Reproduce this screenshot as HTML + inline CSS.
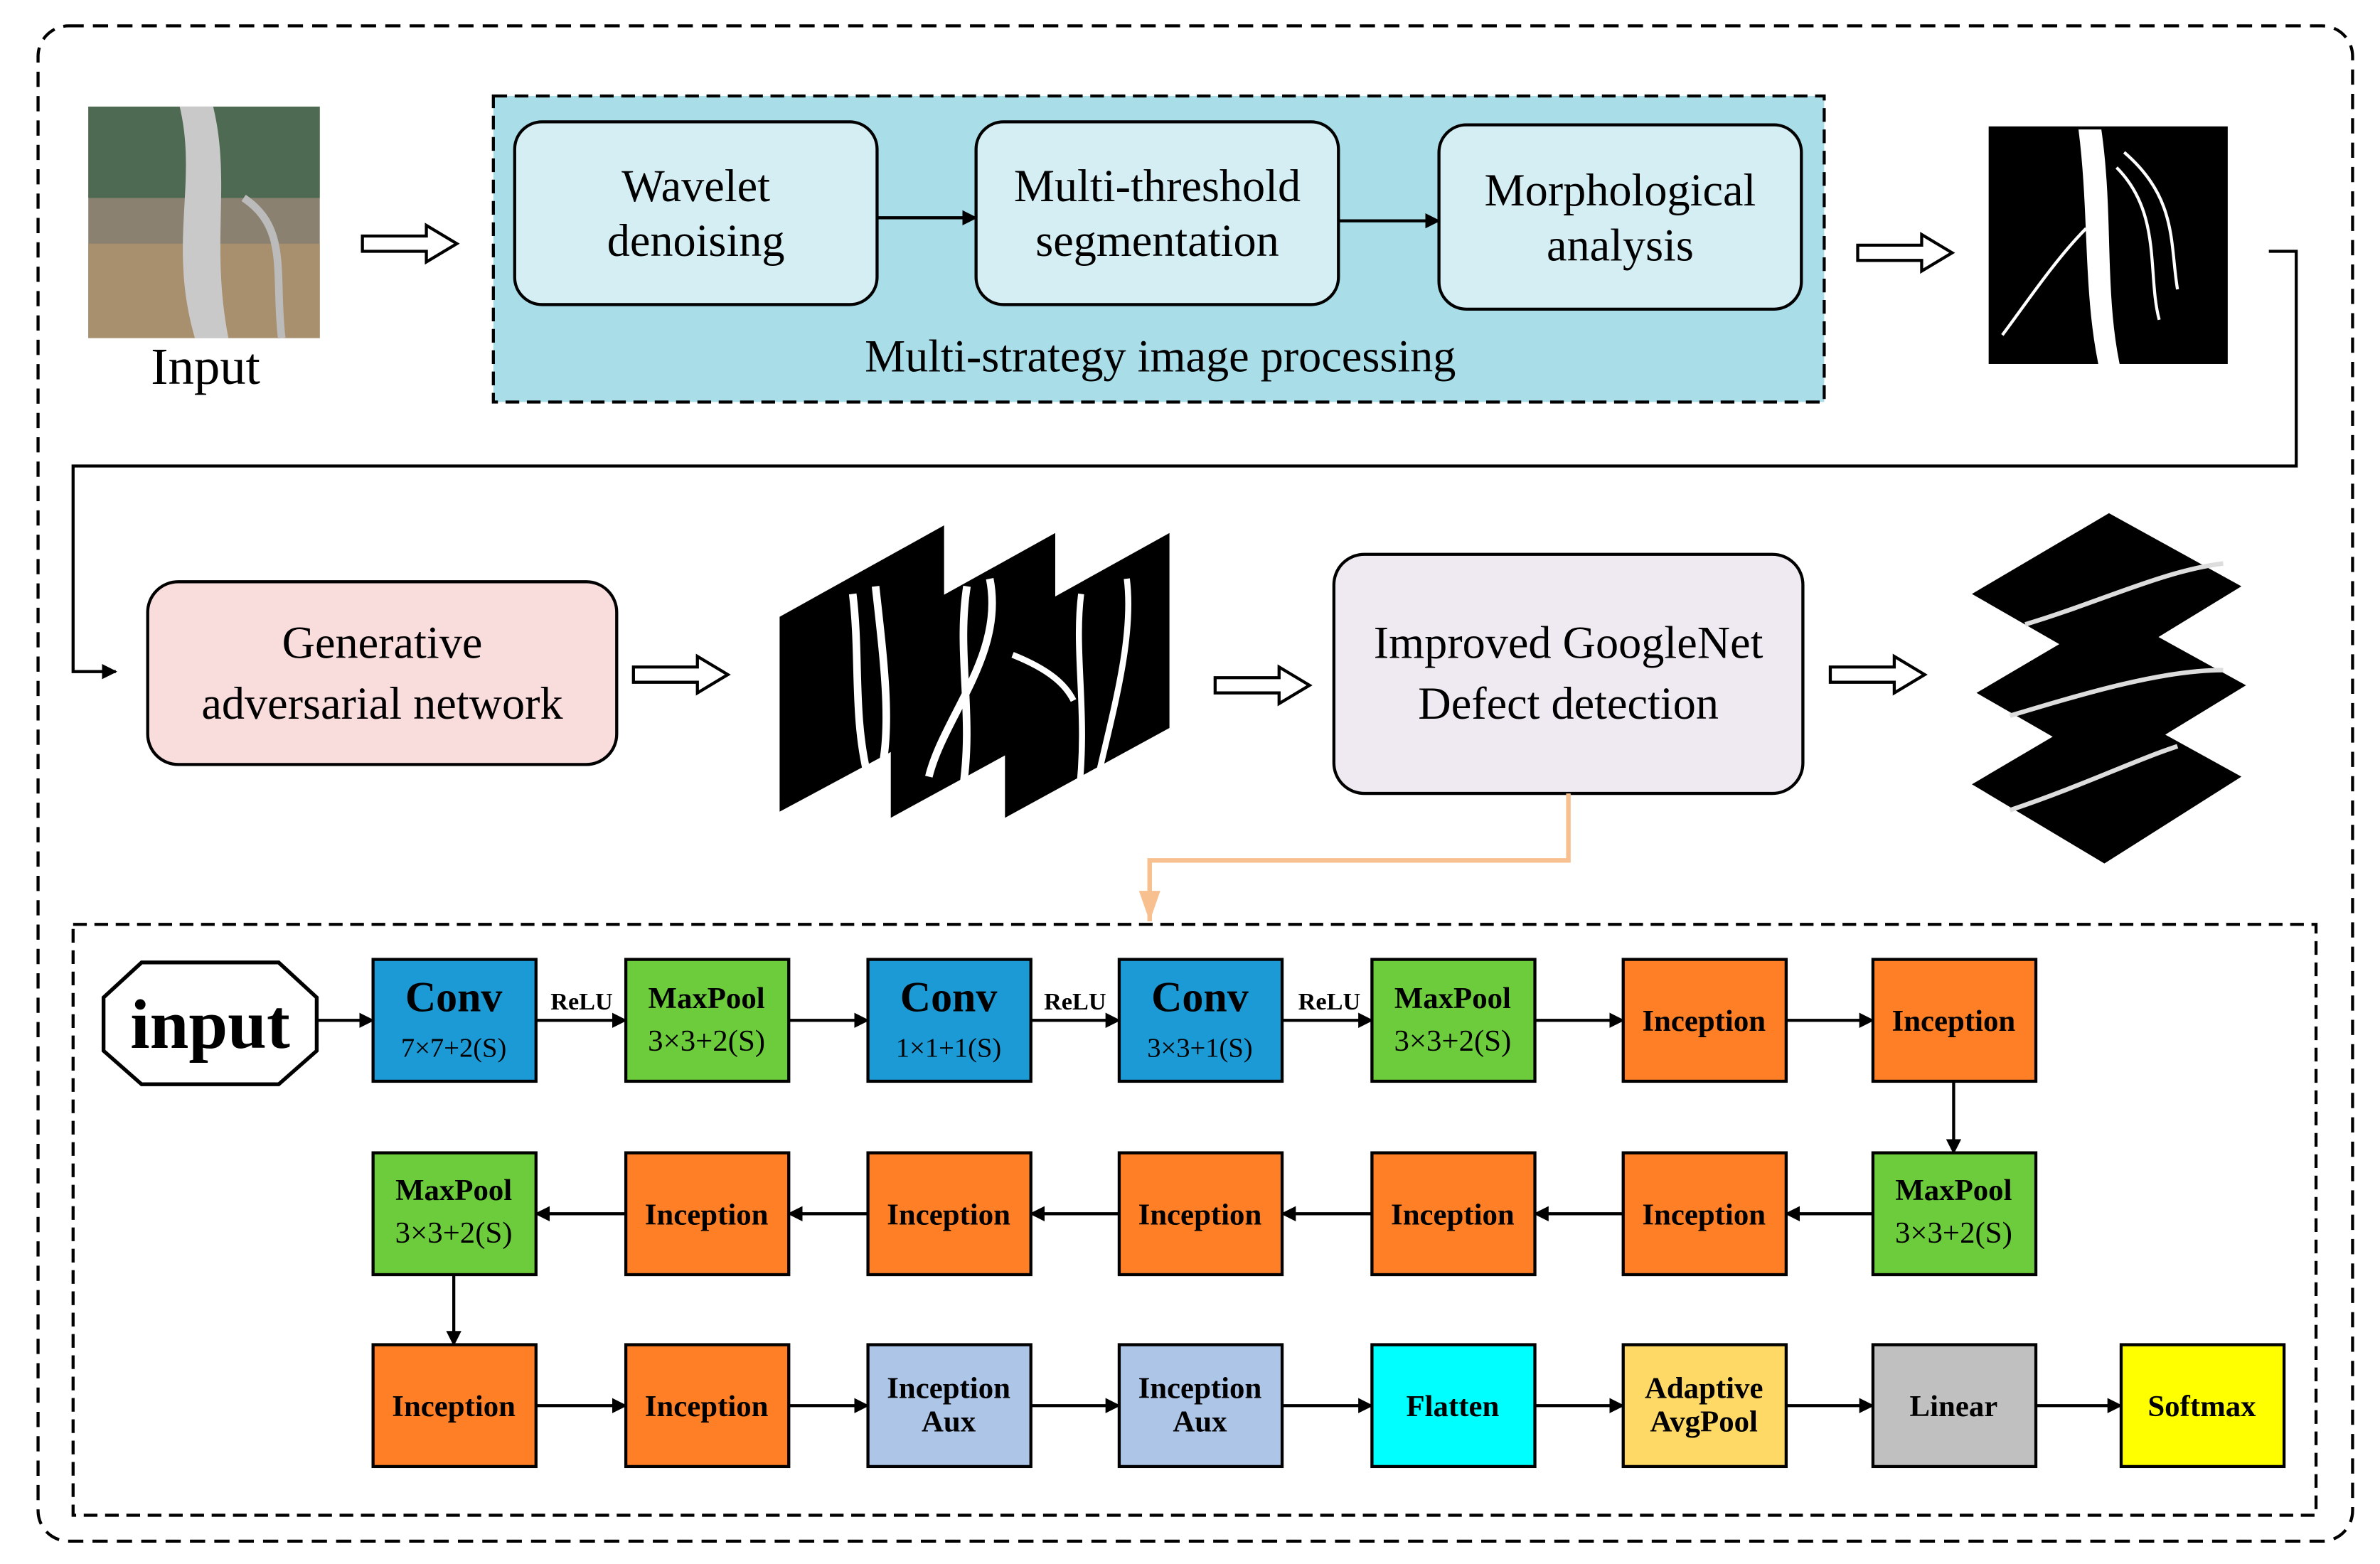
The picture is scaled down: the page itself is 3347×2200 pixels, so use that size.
<!DOCTYPE html>
<html><head><style>html,body{margin:0;padding:0;background:#fff}svg{display:block}</style></head>
<body>
<svg xmlns="http://www.w3.org/2000/svg" width="3347" height="2200" viewBox="0 0 1563 1027" preserveAspectRatio="none" font-family="Liberation Serif, serif">
<defs>
<marker id="a" markerWidth="10" markerHeight="10" refX="9" refY="5" orient="auto" markerUnits="userSpaceOnUse"><path d="M0,0 L10,5 L0,10 Z" fill="#000"/></marker>
<marker id="o" markerWidth="22" markerHeight="14" refX="20" refY="7" orient="auto" markerUnits="userSpaceOnUse"><path d="M0,0 L20,7 L0,14 Z" fill="#f7c08e"/></marker>
<g id="ha"><path d="M0,-5 L42,-5 L42,-12 L62,0 L42,12 L42,5 L0,5 Z" fill="#fff" stroke="#000" stroke-width="2"/></g>
</defs>
<rect x="25" y="17" width="1520" height="995" rx="20" fill="none" stroke="#000" stroke-width="2" stroke-dasharray="10,6"/>
<!-- input photo -->
<rect x="58" y="70" width="152" height="152" fill="#8a8170"/>
<rect x="58" y="70" width="152" height="60" fill="#4f6a52"/>
<rect x="58" y="160" width="152" height="62" fill="#a88f6e"/>
<path d="M118,70 C130,120 110,160 128,222 L150,222 C138,160 152,120 140,70 Z" fill="#c9c9c9"/>
<path d="M160,130 C190,150 180,180 185,222" stroke="#bbb" stroke-width="5" fill="none"/>
<text x="135" y="252" font-size="34" text-anchor="middle">Input</text>
<use href="#ha" x="238" y="160"/>
<rect x="324" y="63" width="874" height="201" fill="#a9dde8" stroke="#000" stroke-width="2" stroke-dasharray="9,5"/>
<g fill="#d5eef3" stroke="#000" stroke-width="2">
<rect x="338" y="80" width="238" height="120" rx="18"/>
<rect x="641" y="80" width="238" height="120" rx="18"/>
<rect x="945" y="82" width="238" height="121" rx="18"/>
</g>
<g font-size="30" text-anchor="middle">
<text x="457" y="132">Wavelet</text><text x="457" y="168">denoising</text>
<text x="760" y="132">Multi-threshold</text><text x="760" y="168">segmentation</text>
<text x="1064" y="135">Morphological</text><text x="1064" y="171">analysis</text>
<text x="762" y="244">Multi-strategy image processing</text>
</g>
<line x1="576" y1="143" x2="641" y2="143" stroke="#000" stroke-width="2" marker-end="url(#a)"/>
<line x1="879" y1="145" x2="945" y2="145" stroke="#000" stroke-width="2" marker-end="url(#a)"/>
<use href="#ha" x="1220" y="166"/>
<rect x="1306" y="83" width="157" height="156" fill="#000"/>
<path d="M1365,85 C1372,140 1368,190 1378,239 L1392,239 C1382,190 1388,140 1380,85 Z" fill="#fff"/>
<path d="M1390,110 C1420,140 1410,180 1418,210 M1395,100 C1430,130 1425,160 1430,190 M1370,150 C1350,170 1330,200 1315,220" stroke="#fff" stroke-width="2" fill="none"/>
<polyline points="1490,165 1508,165 1508,306 48,306 48,441 76,441" fill="none" stroke="#000" stroke-width="2" marker-end="url(#a)"/>
<rect x="97" y="382" width="308" height="120" rx="20" fill="#f9dcdc" stroke="#000" stroke-width="2"/>
<text x="251" y="432" font-size="30" text-anchor="middle">Generative</text>
<text x="251" y="472" font-size="30" text-anchor="middle">adversarial network</text>
<use href="#ha" x="416" y="443"/>
<g>
<polygon points="512,405 620,345 620,475 512,533" fill="#000"/>
<path d="M560,390 C565,430 560,470 570,510 M575,385 C580,430 585,470 580,500" stroke="#fff" stroke-width="5" fill="none"/>
<polygon points="585,410 693,350 693,478 585,537" fill="#000"/>
<path d="M635,385 C628,430 640,470 632,520 M650,380 C660,430 620,470 610,510" stroke="#fff" stroke-width="5" fill="none"/>
<polygon points="660,410 768,350 768,478 660,537" fill="#000"/>
<path d="M710,390 C705,430 715,470 708,525 M740,380 C745,420 730,470 720,515 M665,430 C690,440 700,450 705,460" stroke="#fff" stroke-width="4" fill="none"/>
</g>
<use href="#ha" x="798" y="450"/>
<rect x="876" y="364" width="308" height="157" rx="20" fill="#efeaf1" stroke="#000" stroke-width="2"/>
<text x="1030" y="432" font-size="30" text-anchor="middle">Improved GoogleNet</text>
<text x="1030" y="472" font-size="30" text-anchor="middle">Defect detection</text>
<use href="#ha" x="1202" y="443"/>
<g fill="#000">
<polygon points="1295,390 1385,337 1472,385 1382,440"/>
<polygon points="1298,455 1388,402 1475,450 1385,505"/>
<polygon points="1295,515 1385,462 1472,510 1382,567"/>
</g>
<g stroke="#ddd" stroke-width="3" fill="none">
<path d="M1330,410 C1380,395 1420,375 1460,370"/>
<path d="M1320,470 C1370,455 1420,440 1460,440"/>
<path d="M1320,532 C1370,515 1400,500 1430,490"/>
</g>
<polyline points="1030,521 1030,565 755,565 755,605" fill="none" stroke="#f7c08e" stroke-width="3" marker-end="url(#o)"/>
<rect x="48" y="607" width="1473" height="388" fill="none" stroke="#000" stroke-width="2" stroke-dasharray="9,5"/>
<polygon points="93,632 183,632 208,655 208,690 183,712 93,712 68,690 68,655" fill="#fff" stroke="#000" stroke-width="2.5"/>
<text x="138" y="688" font-size="46" font-weight="bold" text-anchor="middle">input</text>
<g stroke="#000" stroke-width="2">
<rect x="245" y="630" width="107" height="80" fill="#1b9ad6"/>
<rect x="411" y="630" width="107" height="80" fill="#6ccc3c"/>
<rect x="570" y="630" width="107" height="80" fill="#1b9ad6"/>
<rect x="735" y="630" width="107" height="80" fill="#1b9ad6"/>
<rect x="901" y="630" width="107" height="80" fill="#6ccc3c"/>
<rect x="1066" y="630" width="107" height="80" fill="#ff7f27"/>
<rect x="1230" y="630" width="107" height="80" fill="#ff7f27"/>
<rect x="245" y="757" width="107" height="80" fill="#6ccc3c"/>
<rect x="411" y="757" width="107" height="80" fill="#ff7f27"/>
<rect x="570" y="757" width="107" height="80" fill="#ff7f27"/>
<rect x="735" y="757" width="107" height="80" fill="#ff7f27"/>
<rect x="901" y="757" width="107" height="80" fill="#ff7f27"/>
<rect x="1066" y="757" width="107" height="80" fill="#ff7f27"/>
<rect x="1230" y="757" width="107" height="80" fill="#6ccc3c"/>
<rect x="245" y="883" width="107" height="80" fill="#ff7f27"/>
<rect x="411" y="883" width="107" height="80" fill="#ff7f27"/>
<rect x="570" y="883" width="107" height="80" fill="#adc6e8"/>
<rect x="735" y="883" width="107" height="80" fill="#adc6e8"/>
<rect x="901" y="883" width="107" height="80" fill="#00ffff"/>
<rect x="1066" y="883" width="107" height="80" fill="#ffd966"/>
<rect x="1230" y="883" width="107" height="80" fill="#c0c0c0"/>
<rect x="1393" y="883" width="107" height="80" fill="#ffff00"/>
</g>
<g font-weight="bold" text-anchor="middle" font-size="20">
<text x="298" y="664" font-size="28">Conv</text><text x="298" y="694" font-size="18" font-weight="normal">7×7+2(S)</text>
<text x="464" y="662">MaxPool</text><text x="464" y="690" font-weight="normal">3×3+2(S)</text>
<text x="623" y="664" font-size="28">Conv</text><text x="623" y="694" font-size="18" font-weight="normal">1×1+1(S)</text>
<text x="788" y="664" font-size="28">Conv</text><text x="788" y="694" font-size="18" font-weight="normal">3×3+1(S)</text>
<text x="954" y="662">MaxPool</text><text x="954" y="690" font-weight="normal">3×3+2(S)</text>
<text x="1119" y="677">Inception</text>
<text x="1283" y="677">Inception</text>
<text x="298" y="788">MaxPool</text><text x="298" y="816" font-weight="normal">3×3+2(S)</text>
<text x="464" y="804">Inception</text>
<text x="623" y="804">Inception</text>
<text x="788" y="804">Inception</text>
<text x="954" y="804">Inception</text>
<text x="1119" y="804">Inception</text>
<text x="1283" y="788">MaxPool</text><text x="1283" y="816" font-weight="normal">3×3+2(S)</text>
<text x="298" y="930">Inception</text>
<text x="464" y="930">Inception</text>
<text x="623" y="918">Inception</text><text x="623" y="940">Aux</text>
<text x="788" y="918">Inception</text><text x="788" y="940">Aux</text>
<text x="954" y="930">Flatten</text>
<text x="1119" y="918">Adaptive</text><text x="1119" y="940">AvgPool</text>
<text x="1283" y="930">Linear</text>
<text x="1446" y="930">Softmax</text>
<text x="382" y="663" font-size="16">ReLU</text>
<text x="706" y="663" font-size="16">ReLU</text>
<text x="873" y="663" font-size="16">ReLU</text>
</g>
<g stroke="#000" stroke-width="2" marker-end="url(#a)">
<line x1="208" y1="670" x2="245" y2="670"/>
<line x1="352" y1="670" x2="411" y2="670"/>
<line x1="518" y1="670" x2="570" y2="670"/>
<line x1="677" y1="670" x2="735" y2="670"/>
<line x1="842" y1="670" x2="901" y2="670"/>
<line x1="1008" y1="670" x2="1066" y2="670"/>
<line x1="1173" y1="670" x2="1230" y2="670"/>
<line x1="1283" y1="710" x2="1283" y2="757"/>
<line x1="1230" y1="797" x2="1173" y2="797"/>
<line x1="1066" y1="797" x2="1008" y2="797"/>
<line x1="901" y1="797" x2="842" y2="797"/>
<line x1="735" y1="797" x2="677" y2="797"/>
<line x1="570" y1="797" x2="518" y2="797"/>
<line x1="411" y1="797" x2="352" y2="797"/>
<line x1="298" y1="837" x2="298" y2="883"/>
<line x1="352" y1="923" x2="411" y2="923"/>
<line x1="518" y1="923" x2="570" y2="923"/>
<line x1="677" y1="923" x2="735" y2="923"/>
<line x1="842" y1="923" x2="901" y2="923"/>
<line x1="1008" y1="923" x2="1066" y2="923"/>
<line x1="1173" y1="923" x2="1230" y2="923"/>
<line x1="1337" y1="923" x2="1393" y2="923"/>
</g>
</svg>
</body></html>
